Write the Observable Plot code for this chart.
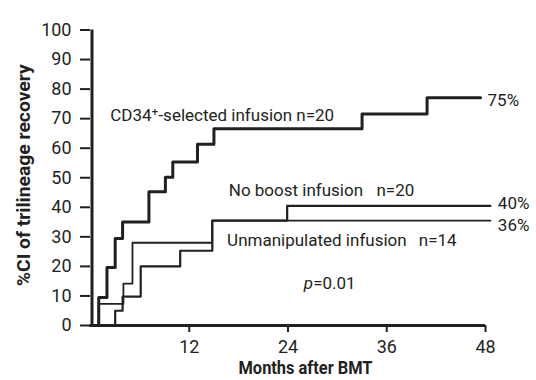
<!DOCTYPE html>
<html><head><meta charset="utf-8">
<script src="https://cdn.jsdelivr.net/npm/d3@7"></script>
<script src="https://cdn.jsdelivr.net/npm/@observablehq/plot@0.6"></script>
<style>
html,body{margin:0;padding:0;background:#fff;}
#chart svg{display:block;}
</style></head><body><div id="chart"></div>
<script>
// ---- data (months after BMT, % cumulative incidence) ----
const cd34Months = [0, 1.0, 2.0, 3.0, 3.9, 7.1, 9.1, 10.0, 13.0, 15.0, 33.0, 40.9, 47.4];
const cd34Pct    = [0, 9.5, 19.6, 29.4, 35.0, 45.3, 50.2, 55.3, 61.3, 66.6, 71.6, 77.1, 77.1];
const noBoostMonths = [0, 3.0, 3.9, 6.1, 10.9, 14.8, 23.9, 48.6];
const noBoostPct    = [0, 5.0, 9.8, 20.0, 25.3, 35.5, 40.5, 40.5];
const unmanipMonths = [0, 1.0, 4.0, 5.1, 14.8, 48.6];
const unmanipPct    = [0, 7.3, 14.2, 28.0, 35.5, 35.5];

const yTicks = [0, 10, 20, 30, 40, 50, 60, 70, 80, 90, 100];
const xTicks = [12, 24, 36, 48];
const xTitle = "Months after BMT";
const yTitle = "%CI of trilineage recovery";

// annotations: text, anchor month, anchor pct
const labelText  = ["CD34\u207A-selected infusion n=20", "No boost infusion", "n=20", "Unmanipulated infusion", "n=14", "75%", "40%", "36%"];
const labelMonth = [2.4, 16.8, 34.75, 16.6, 39.9, 48.25, 49.5, 49.5];
const labelPct   = [71.0, 45.7, 45.7, 28.8, 28.8, 76.1, 41.3, 33.8];
const pLabelMonth = 25.9, pLabelPct = 14.2;

const FONT = 'Roboto, "Liberation Sans", sans-serif';
const INK = "#231f20";

const toRows = (months, pct) => months.map((m, i) => ({month: m, pct: pct[i]}));
const labels = labelText.map((t, i) => ({t, month: labelMonth[i], pct: labelPct[i]}));

const chart = Plot.plot({
  width: 536, height: 380,
  marginLeft: 90, marginRight: 51, marginTop: 29.5, marginBottom: 55,
  x: {domain: [0, 48]},
  y: {domain: [0, 100]},
  style: {fontFamily: FONT, fontSize: "18px", color: INK, background: "#fff", overflow: "visible"},
  marks: [
    Plot.axisY({ticks: yTicks, tickSize: 10, tickPadding: 9, strokeWidth: 2, fontSize: 18, label: null}),
    Plot.axisX({ticks: xTicks, tickSize: 7, tickPadding: 8, strokeWidth: 2, fontSize: 18, label: null}),
    Plot.ruleX([0], {y1: 0, y2: 100, stroke: INK, strokeWidth: 3, dx: 1.5}),
    Plot.ruleY([0], {x1: 0, x2: 48, stroke: INK, strokeWidth: 3}),
    Plot.line(toRows(unmanipMonths, unmanipPct), {x: "month", y: "pct", curve: "step-after", stroke: INK, strokeWidth: 1.8}),
    Plot.line(toRows(noBoostMonths, noBoostPct), {x: "month", y: "pct", curve: "step-after", stroke: INK, strokeWidth: 2.2}),
    Plot.line(toRows(cd34Months, cd34Pct), {x: "month", y: "pct", curve: "step-after", stroke: INK, strokeWidth: 3}),
    Plot.text(labels, {x: "month", y: "pct", text: "t", textAnchor: "start", fill: INK, fontSize: 17}),
    Plot.text(["p"], {x: pLabelMonth, y: pLabelPct, textAnchor: "start", fontStyle: "italic", fill: INK, fontSize: 17}),
    Plot.text(["=0.01"], {x: pLabelMonth, y: pLabelPct, textAnchor: "start", dx: 9.5, fill: INK, fontSize: 17}),
    Plot.text([xTitle], {frameAnchor: "bottom", textAnchor: "middle", lineAnchor: "middle", dx: 17.5, dy: 43, fontWeight: "bold", fontSize: 18.5, fill: INK, className: "xtitle"}),
    Plot.text([yTitle], {frameAnchor: "left", textAnchor: "middle", lineAnchor: "middle", rotate: -90, dx: -66, dy: -2.5, fontWeight: "bold", fontSize: 18.5, fill: INK, className: "ytitle"})
  ]
});
// condensed look for the bold titles
chart.querySelectorAll(".xtitle text").forEach(t => { t.setAttribute("textLength", 134); t.setAttribute("lengthAdjust", "spacingAndGlyphs"); });
chart.querySelectorAll(".ytitle text").forEach(t => { t.setAttribute("textLength", 222); t.setAttribute("lengthAdjust", "spacingAndGlyphs"); });
document.getElementById("chart").appendChild(chart);
</script></body></html>
